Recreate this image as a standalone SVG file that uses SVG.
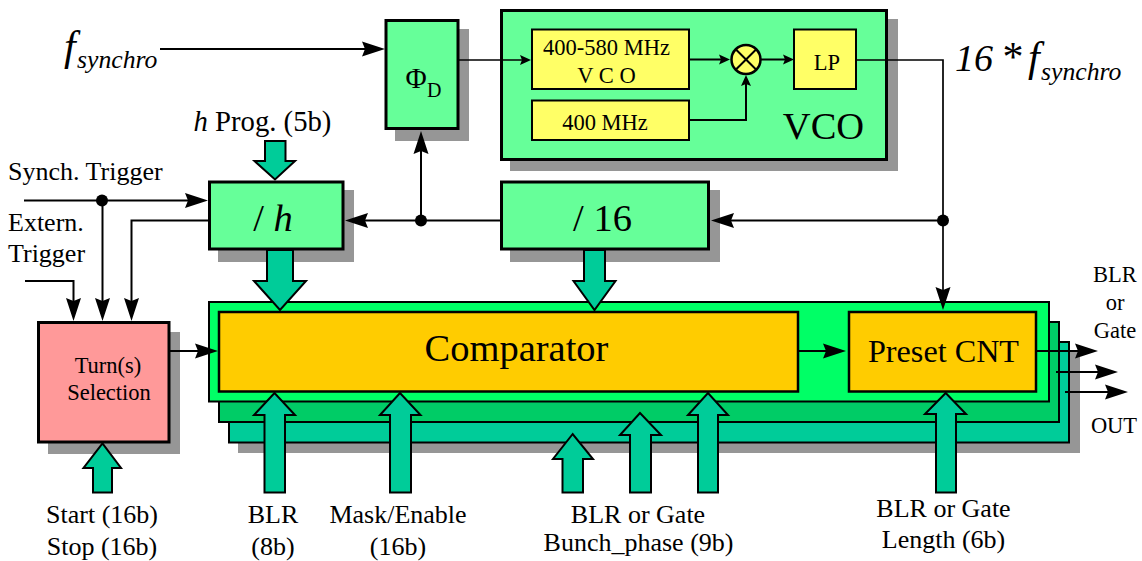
<svg xmlns="http://www.w3.org/2000/svg" width="1142" height="561" viewBox="0 0 1142 561">
<style>
text{font-family:"Liberation Serif","Times New Roman",serif;fill:#000;text-anchor:middle}
.i{font-style:italic}
.st{text-anchor:start}
.s{fill:#969696;stroke:none}
.g{fill:#66FF99;stroke:#000;stroke-width:3}
.y{fill:#FFFF66;stroke:#000;stroke-width:2}
.o{fill:#FFCC00;stroke:#000;stroke-width:2.5}
.w{fill:none;stroke:#000;stroke-width:2}
.t{fill:none;stroke:#000;stroke-width:1.7}
.a{marker-end:url(#big)}
.b{marker-end:url(#small)}
.bus{fill:#00CC99;stroke:#000;stroke-width:2;stroke-linejoin:miter}
.f26{font-size:26px}.f22{font-size:22.5px}.f38{font-size:38.5px}
</style>
<defs>
<marker id="big" markerUnits="userSpaceOnUse" markerWidth="24" markerHeight="16" refX="17" refY="7.5" orient="auto" overflow="visible"><path d="M0 0L23 7.5L0 15L3 7.5Z" fill="#000"/></marker>
<marker id="small" markerUnits="userSpaceOnUse" markerWidth="12" markerHeight="12" refX="7" refY="5" orient="auto" overflow="visible"><path d="M0 0L11 5L0 10L2 5Z" fill="#000"/></marker>
</defs>

<g id="stack">
<rect class="s" x="238" y="352" width="842" height="101"/>
<rect x="229" y="342" width="840" height="100.500" fill="#00CC99" stroke="#000" stroke-width="2"/>
<rect x="219" y="322" width="840" height="100" fill="#00CC66" stroke="#000" stroke-width="2"/>
<rect x="209" y="302" width="840" height="99.500" fill="#00FF66" stroke="#000" stroke-width="2"/>
</g>
<g id="comparator">
<rect class="o" x="219" y="312" width="579" height="79.500"/>
<text class="f38" x="516.500" y="361">Comparator</text>
</g>
<g id="preset">
<rect class="o" x="849" y="312" width="187" height="79.500"/>
<text x="943.500" y="361.500" font-size="32.200">Preset CNT</text>
</g>
<g id="phase-detector">
<rect class="s" x="395" y="29" width="74" height="112"/>
<rect class="g" x="386" y="20.500" width="72" height="108"/>
<text x="405.500" y="88" class="st" font-size="29">Φ<tspan x="427" font-size="20" dy="9">D</tspan></text>
</g>
<g id="vco">
<rect class="s" x="510" y="19" width="388" height="152"/>
<rect class="g" x="501.500" y="10.500" width="385" height="149"/>
<text class="f38" x="823.500" y="139">VCO</text>
</g>
<g id="vco-osc">
<rect class="y" x="532" y="29.500" width="157" height="59.500"/>
<text class="f22" x="606.500" y="55">400-580 MHz</text>
<text class="f22" x="606.500" y="82.700">V C O</text>
</g>
<g id="osc-400">
<rect class="y" x="532" y="100.500" width="157" height="39.500"/>
<text class="f22" x="605" y="129.500">400 MHz</text>
</g>
<g id="mixer">
<circle cx="746" cy="59.500" r="14.500" fill="#FFFF66" stroke="#000" stroke-width="2.500"/>
<path d="M735.700 49.200L756.300 69.800M756.300 49.200L735.700 69.800" stroke="#000" stroke-width="2" fill="none"/>
</g>
<g id="lp">
<rect class="y" x="794" y="29.500" width="62" height="59.500"/>
<text class="f22" x="827" y="70">LP</text>
</g>
<g id="div-h">
<rect class="s" x="218" y="190" width="136" height="72"/>
<rect class="g" x="209.500" y="182" width="133.500" height="67"/>
<text class="f38" x="273" y="230.600">/ <tspan class="i">h</tspan></text>
</g>
<g id="div-16">
<rect class="s" x="510" y="190" width="210" height="72"/>
<rect class="g" x="501.500" y="182" width="207" height="67"/>
<text class="f38" x="602.500" y="230.600">/ 16</text>
</g>
<g id="turn-selection">
<rect class="s" x="48" y="332" width="132" height="122"/>
<rect x="38.500" y="322.500" width="130.500" height="119.500" fill="#FF9999" stroke="#000" stroke-width="3"/>
<text x="108" y="372.700" font-size="22.500">Turn(s)</text>
<text x="109" y="400" font-size="22.500">Selection</text>
</g>

<g id="connectors">
<path class="w a" d="M160 49H379"/>
<path class="t b" d="M458 60H527"/>
<path class="w b" d="M689 59.500H726"/>
<path class="w b" d="M761 59.500H790"/>
<path class="w b" d="M689 120H746V79"/>
<path class="t" d="M856 60H943V220"/>
<path class="t a" d="M943 220V304"/>
<path class="w a" d="M943 220.500H717"/>
<path class="w a" d="M501 220.500H351"/>
<path class="w a" d="M421 220.500V137"/>
<path class="w a" d="M24 200.500H202"/>
<path class="w a" d="M102.500 200.500V315"/>
<path class="w a" d="M25 281H73.500V315"/>
<path class="w a" d="M209 220.500H131.500V315"/>
<path class="w a" d="M170 351H212"/>
<path class="w a" d="M798 351H840"/>
<path class="w a" d="M1036 351H1092"/>
<path class="w a" d="M1056 372H1112"/>
<path class="w a" d="M1065 392H1122"/>
<circle cx="102" cy="200.500" r="6"/>
<circle cx="421" cy="220.500" r="6"/>
<circle cx="943" cy="220.500" r="6"/>
<polygon class="bus" points="265,141 285.500,141 285.500,161 295,161 275,179.500 254.500,161 265,161"/>
<polygon class="bus" points="267,250 293,250 293,281 306,281 280,310 254,281 267,281"/>
<polygon class="bus" points="584,250 605,250 605,281 615.500,281 594.500,310 573.500,281 584,281"/>
<polygon class="bus" points="93,492.500 112,492.500 112,468 121,468 102.500,443.500 83.500,468 93,468"/>
<polygon class="bus" points="264.500,492.500 285,492.500 285,415 295,415 274.500,393 254,415 264.500,415"/>
<polygon class="bus" points="390,492.500 411,492.500 411,415 420.500,415 400,393 380,415 390,415"/>
<polygon class="bus" points="562.500,492.500 583,492.500 583,459 593,459 572.700,434 553,459 562.500,459"/>
<polygon class="bus" points="630,492.500 651,492.500 651,435 661,435 640,413 620,435 630,435"/>
<polygon class="bus" points="698,492.500 718,492.500 718,415 728,415 708,393 688,415 698,415"/>
<polygon class="bus" points="936,492.500 956,492.500 956,414 966,414 945.700,393 925,414 936,414"/>
</g>

<g id="labels">
<text class="i st" x="64" y="60" font-size="42">f<tspan x="77" y="67.500" font-size="25.700">synchro</tspan></text>
<text class="i st" x="955" y="71" font-size="38">16 <tspan font-style="normal" font-size="42">*</tspan><tspan x="1028" font-size="42">f</tspan><tspan x="1041" y="79.500" font-size="25.700">synchro</tspan></text>
<text x="262.500" y="130.500" font-size="28.700"><tspan class="i">h</tspan> Prog. (5b)</text>
<text class="f26 st" x="8" y="180">Synch. Trigger</text>
<text class="f26 st" x="8" y="230.700">Extern.</text>
<text class="f26 st" x="8" y="262">Trigger</text>
<text class="f26" x="102" y="522.700">Start (16b)</text>
<text class="f26" x="102" y="555">Stop (16b)</text>
<text class="f26" x="273" y="522.700">BLR</text>
<text class="f26" x="273" y="555">(8b)</text>
<text class="f26" x="398" y="522.700">Mask/Enable</text>
<text class="f26" x="398" y="555">(16b)</text>
<text class="f26" x="638" y="522.700">BLR or Gate</text>
<text class="f26" x="638.500" y="551">Bunch_phase (9b)</text>
<text class="f26" x="943.500" y="516.700">BLR or Gate</text>
<text class="f26" x="943.500" y="548">Length (6b)</text>
<text class="f22" x="1115" y="282">BLR</text>
<text class="f22" x="1115" y="310">or</text>
<text class="f22" x="1115" y="338">Gate</text>
<text class="f22" x="1114" y="432.700">OUT</text>
</g>
</svg>
